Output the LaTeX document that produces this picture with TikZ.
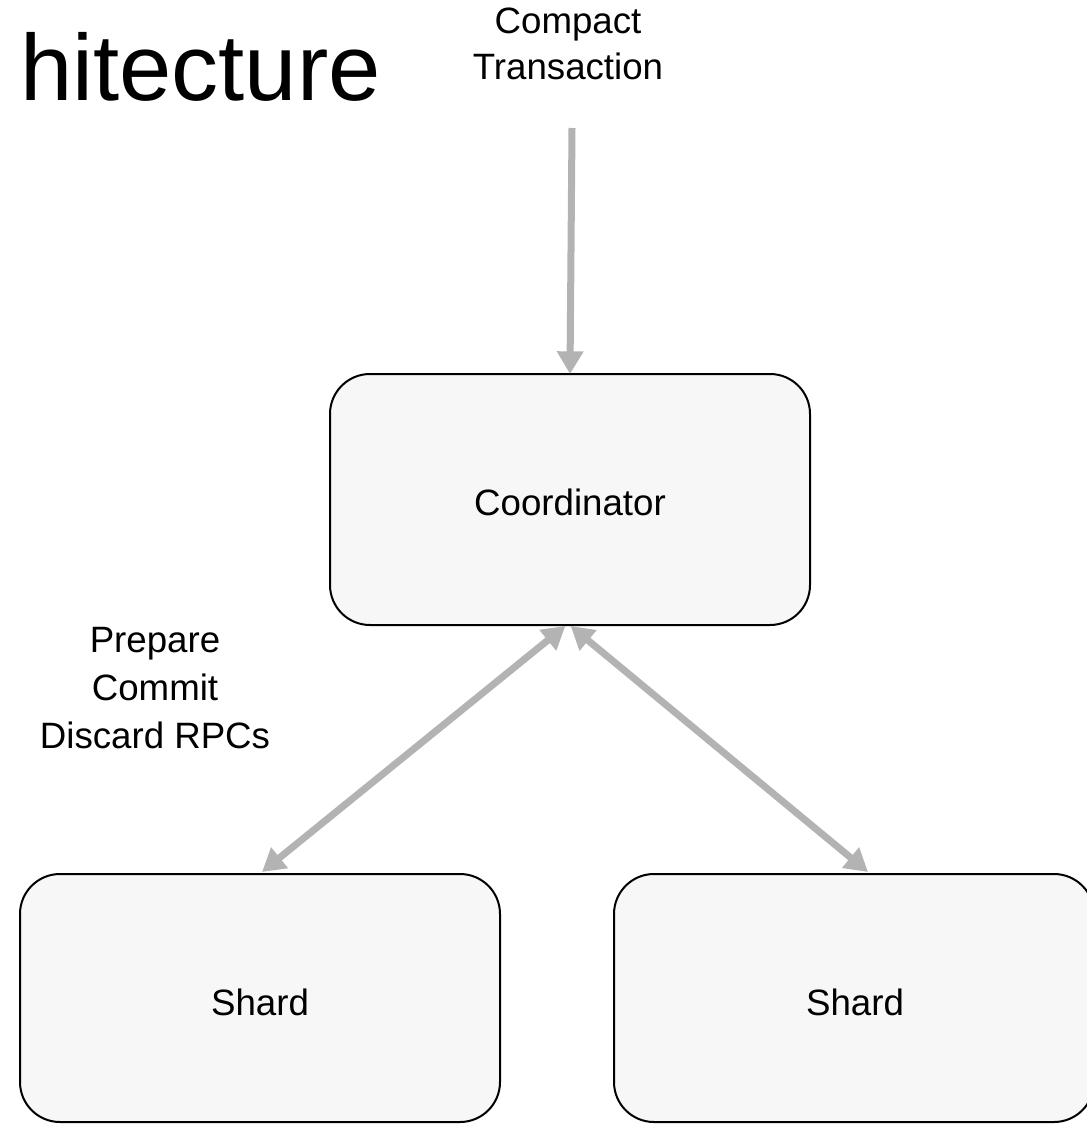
\documentclass[tikz,border=0pt]{standalone}
\usepackage{fontspec}
\setmainfont{Liberation Sans}
\usetikzlibrary{arrows.meta}
\definecolor{boxfill}{HTML}{F7F7F7}
\definecolor{arrowgrey}{HTML}{B3B3B3}
\tikzset{
  box/.style={draw=black, line width=1.5pt, fill=boxfill, rounded corners=30pt},
  lbl/.style={font=\fontsize{27.5pt}{34pt}\selectfont, align=center, inner sep=0pt},
  conn/.style={draw=arrowgrey, line width=5.25pt, -{Triangle[length=17pt,width=19pt]}},
  dconn/.style={draw=arrowgrey, line width=5.25pt, {Triangle[length=17pt,width=19pt]}-{Triangle[length=17pt,width=19pt]}}
}
\begin{document}
\begin{tikzpicture}[x=0.75pt,y=-0.75pt]
\useasboundingbox (0,0) rectangle (1087,1124);
\fill[white] (0,0) rectangle (1087,1124);
% boxes
\draw[box] (330,374) rectangle (810,625);
\draw[box] (20,874) rectangle (500,1122);
\draw[box] (614,874) rectangle (1094,1122);
\coordinate (coordtop) at (570,374);
\coordinate (coordbot) at (568,626);
\coordinate (lshardtop) at (262,872);
\coordinate (rshardtop) at (868,872);
\coordinate (instart) at (572,128);
\node[lbl] (coord) at (570,502) {Coordinator};
\node[lbl] (lshard) at (260,1002) {Shard};
\node[lbl] (rshard) at (855,1002) {Shard};
\node[lbl] (compact) at (568,44) {Compact\\Transaction};
\node[lbl, font=\fontsize{27.5pt}{36pt}\selectfont] (rpcs) at (155,688) {Prepare\\Commit\\Discard RPCs};
\node[anchor=base west, inner sep=0pt, font=\fontsize{70.5pt}{80pt}\selectfont] (title) at (20,100) {hitecture};
% connectors
\draw[conn] (instart) -- (coordtop);
\draw[dconn] ([xshift=-2]coordbot) -- (lshardtop);
\draw[dconn] ([xshift=2]coordbot) -- (rshardtop);
\end{tikzpicture}
\end{document}
